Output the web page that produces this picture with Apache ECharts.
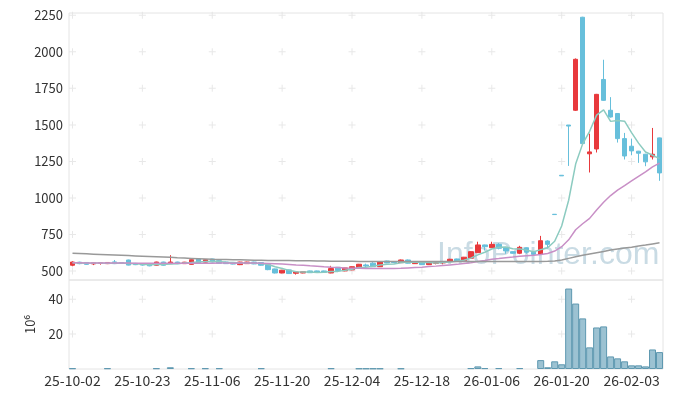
<!DOCTYPE html>
<html>
<head>
<meta charset="utf-8">
<script src="https://cdn.jsdelivr.net/npm/echarts@6/dist/echarts.min.js"></script>
<style>html,body{margin:0;padding:0;background:#fff;}#c{width:673px;height:398px;}</style>
</head>
<body>
<div id="c"></div>
<script>
var dates = ['25-10-02','25-10-10','25-10-13','25-10-14','25-10-15','25-10-16','25-10-17','25-10-20','25-10-21','25-10-22',
'25-10-23','25-10-24','25-10-27','25-10-28','25-10-29','25-10-30','25-10-31','25-11-03','25-11-04','25-11-05',
'25-11-06','25-11-07','25-11-10','25-11-11','25-11-12','25-11-13','25-11-14','25-11-17','25-11-18','25-11-19',
'25-11-20','25-11-21','25-11-24','25-11-25','25-11-26','25-11-27','25-11-28','25-12-01','25-12-02','25-12-03',
'25-12-04','25-12-05','25-12-08','25-12-09','25-12-10','25-12-11','25-12-12','25-12-15','25-12-16','25-12-17',
'25-12-18','25-12-19','25-12-22','25-12-23','25-12-24','25-12-26','25-12-29','25-12-30','26-01-02','26-01-05',
'26-01-06','26-01-07','26-01-08','26-01-09','26-01-12','26-01-13','26-01-14','26-01-15','26-01-16','26-01-19',
'26-01-20','26-01-21','26-01-22','26-01-23','26-01-26','26-01-27','26-01-28','26-01-29','26-01-30','26-02-02',
'26-02-03','26-02-04','26-02-05','26-02-06','26-02-09'];

// [open, close, low, high]
var ohlc = [
[539,561,532,566],[560,550,546,563],[558,545,542,560],[548,556,540,558],[552,556,543,558],
[550,558,547,560],[562,550,547,575],[557,553,550,559],[575,540,538,577],[552,543,540,555],
[550,540,536,552],[548,535,532,550],[539,561,537,563],[561,539,536,563],[550,561,548,608],
[561,550,547,563],[550,560,548,562],[545,577,543,580],[582,555,553,585],[560,577,557,580],
[582,561,558,584],[570,552,550,572],[561,550,548,563],[558,547,545,560],[543,561,540,563],
[550,561,548,563],[561,548,546,563],[557,539,536,559],[543,509,505,545],[514,486,483,516],
[486,505,484,507],[507,482,480,509],[484,493,475,495],[486,495,484,497],[500,488,486,502],
[500,490,488,502],[500,490,488,502],[486,516,484,535],[525,502,500,527],[500,521,498,523],
[507,529,505,531],[518,546,516,548],[541,534,525,550],[553,529,527,560],[529,564,527,566],
[568,555,553,570],[562,557,553,565],[557,575,555,578],[575,553,551,578],[550,559,548,561],
[559,543,541,561],[543,559,541,561],[552,561,545,568],[555,564,545,566],[564,580,562,583],
[582,568,566,584],[570,594,568,596],[587,632,585,634],[625,678,623,700],[678,666,640,680],
[659,682,657,700],[682,655,648,690],[659,637,618,661],[632,621,618,634],[621,662,615,672],
[659,628,618,661],[628,614,610,630],[614,707,610,740],[705,682,655,710],[888,886,886,888],
[1155,1151,1151,1155],[1499,1492,1219,1499],[1600,1949,1595,1955],[2237,1372,1372,2240],[1302,1315,1174,1440],
[1335,1709,1311,1712],[1811,1668,1665,1946],[1600,1554,1550,1690],[1578,1406,1379,1580],[1406,1287,1263,1445],
[1354,1322,1292,1406],[1320,1306,1240,1322],[1299,1247,1217,1302],[1281,1299,1263,1479],[1411,1171,1117,1413]
];

var ma5 = [556,555,553,554,554,553,553,555,551,549,
545,542,544,544,547,549,554,557,561,564,
566,564,559,557,554,554,553,551,544,529,
517,504,495,492,493,490,491,496,497,504,
512,523,526,532,540,546,548,556,561,560,
557,558,555,557,561,566,573,588,610,628,
650,663,664,652,651,641,632,646,659,703,
808,984,1232,1370,1456,1567,1603,1524,1530,1525,
1447,1375,1314,1292,1269];

var ma20 = [556,556,555,555,555,554,554,554,554,553,
553,553,553,553,553,553,553,553,553,553,
553,554,554,553,554,554,554,553,551,549,
547,544,541,539,535,532,528,525,523,520,
518,518,517,516,516,516,517,518,521,524,
526,530,533,537,541,545,551,556,565,572,
580,585,591,595,600,604,607,613,620,636,
666,713,782,823,860,917,970,1016,1053,1084,
1116,1148,1179,1213,1238];

var ma60 = [621,619,617,615,613,611,609,607,605,603,
601,599,597,595,593,590,588,586,584,582,
580,579,578,577,576,575,574,573,572,572,
572,571,570,570,569,568,568,567,567,566,
566,565,565,565,565,564,564,564,564,564,
564,564,564,564,564,564,564,564,564,564,
564,564,564,564,564,564,564,565,566,568,
575,586,597,607,616,625,633,643,650,657,
663,670,677,685,693];

// volume in 10^6 shares ('-' = too small to see)
var volume = [0.4,'-','-','-','-',0.4,'-','-','-','-',
'-','-',0.4,'-',1.0,'-','-',0.4,'-',0.4,
'-',0.4,'-','-','-','-','-',0.4,'-','-',
'-','-','-','-','-','-','-',0.4,'-','-',
'-',0.3,0.3,0.3,0.3,'-','-',0.3,'-','-',
'-','-','-','-','-','-','-',0.5,1.5,0.5,
'-',0.5,'-','-',0.5,'-','-',5.1,1.0,4.4,
2.7,46.1,37.5,29.0,12.4,23.8,24.4,7.2,6.1,4.4,
2.1,2.1,1.5,11.2,9.7];

var priceTicks = [500,750,1000,1250,1500,1750,2000,2250];
var volTicks = [20,40];
var labelIdx = [0,10,20,30,40,50,60,70,80];

var FONT = '"Noto Sans CJK KR","Noto Sans",sans-serif';
var plus = 'path://M3,0H4V7H3ZM0,3H7V4H0Z';
var crossMain = [], crossVol = [];
labelIdx.forEach(function(i){
  priceTicks.forEach(function(v){ crossMain.push([i, v]); });
  volTicks.forEach(function(v){ crossVol.push([i, v]); });
});
function plain(v){ return String(v); }

var chart = echarts.init(document.getElementById('c'), null, {renderer:'canvas'});
chart.setOption({
  animation:false,
  backgroundColor:'#fff',
  textStyle:{fontFamily:FONT},
  graphic:[{
    type:'text', left:437, top:239, z:0, silent:true,
    style:{text:'InfoPointer.com', font:'32px "Liberation Sans", sans-serif', fill:'#c9dbe4'}
  }],
  grid:[
    {left:69, right:10, top:13, height:267, show:true, borderColor:'#e4e4e4', borderWidth:1, backgroundColor:'transparent'},
    {left:69, right:10, top:280, height:89, show:true, borderColor:'#e4e4e4', borderWidth:1, backgroundColor:'transparent'}
  ],
  xAxis:[
    {type:'category', gridIndex:0, data:dates, boundaryGap:true,
     axisLine:{show:false}, axisTick:{show:false}, axisLabel:{show:false}, splitLine:{show:false}},
    {type:'category', gridIndex:1, data:dates, boundaryGap:true,
     axisLine:{show:false}, axisTick:{show:false}, splitLine:{show:false},
     axisLabel:{interval:9, color:'#333', fontSize:14, margin:5, fontFamily:FONT}}
  ],
  yAxis:[
    {type:'value', gridIndex:0, min:438, max:2266, scale:true,
     axisLine:{show:false}, axisTick:{show:false}, splitLine:{show:false},
     axisLabel:{customValues:priceTicks, formatter:plain, color:'#333', fontSize:13, margin:6, fontFamily:FONT}},
    {type:'value', gridIndex:1, min:0, max:51,
     axisLine:{show:false}, axisTick:{show:false}, splitLine:{show:false},
     axisLabel:{customValues:volTicks, formatter:plain, color:'#333', fontSize:13, margin:6, fontFamily:FONT},
     name:'10\u2076', nameLocation:'middle', nameRotate:90, nameGap:32,
     nameTextStyle:{color:'#333', fontSize:13, fontFamily:FONT}}
  ],
  series:[
    {type:'scatter', xAxisIndex:0, yAxisIndex:0, data:crossMain, symbol:plus, symbolSize:7, z:1, silent:true,
     itemStyle:{color:'#e2e2e2'}},
    {type:'scatter', xAxisIndex:1, yAxisIndex:1, data:crossVol, symbol:plus, symbolSize:7, z:1, silent:true,
     itemStyle:{color:'#e2e2e2'}},
    {type:'candlestick', xAxisIndex:0, yAxisIndex:0, data:ohlc, barWidth:5, z:3,
     itemStyle:{color:'#e8393c', color0:'#67bfdb', borderColor:'#e8393c', borderColor0:'#67bfdb', borderWidth:1}},
    {type:'line', xAxisIndex:0, yAxisIndex:0, data:ma5, symbol:'none', z:4,
     lineStyle:{color:'#8ccbc0', width:1.5}},
    {type:'line', xAxisIndex:0, yAxisIndex:0, data:ma20, symbol:'none', z:4,
     lineStyle:{color:'#c88fc6', width:1.5}},
    {type:'line', xAxisIndex:0, yAxisIndex:0, data:ma60, symbol:'none', z:4,
     lineStyle:{color:'#999999', width:1.5}},
    {type:'bar', xAxisIndex:1, yAxisIndex:1, data:volume, barWidth:'100%', z:3,
     itemStyle:{color:'#9cc2d2', borderColor:'#5e98b0', borderWidth:1}}
  ]
});
</script>
</body>
</html>
